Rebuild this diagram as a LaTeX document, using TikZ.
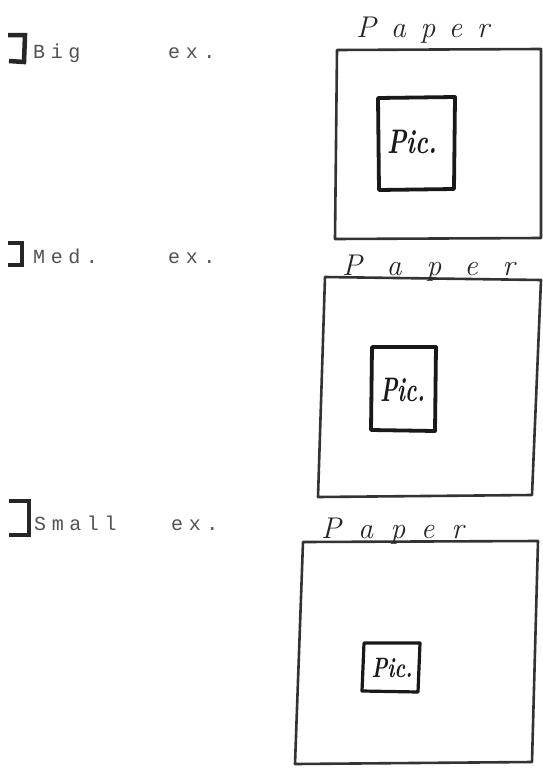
\documentclass[tikz,border=0pt]{standalone}
\usepackage{fontspec}
\newfontfamily\typew[LetterSpace=28]{Liberation Mono}
\newfontfamily\handA[LetterSpace=49]{Latin Modern Roman}
\newfontfamily\handB[LetterSpace=82]{Latin Modern Roman}
\newfontfamily\handC[LetterSpace=57]{Latin Modern Roman}
\begin{document}
\begin{tikzpicture}[x=1pt,y=-1pt,
  typed/.style={font=\typew\fontsize{20}{20}\selectfont, text=black!68, anchor=base west, inner sep=0pt},
  bracketmark/.style={draw=black!85, line width=4.5pt, line join=miter},
  sheet/.style={draw=black!80, line width=2.6pt, line join=round},
  picframe/.style={draw=black!90, line width=3.8pt, line join=round},
  hand/.style={font=#1\itshape\fontsize{30}{30}\selectfont, text=black!85, anchor=base west, inner sep=0pt},
  pictext/.style={font=\bfseries\itshape\fontsize{34}{34}\selectfont, text=black!90, inner sep=0pt, xscale=0.72}
]
\useasboundingbox (0,0) rectangle (543,771);
\fill[white] (0,0) rectangle (543,771);

% left typed labels
\coordinate (b1a) at (8,35); \coordinate (b1b) at (25,35);
\coordinate (b1c) at (24,62); \coordinate (b1d) at (9,61);
\draw[bracketmark] (b1a) -- (b1b) -- (b1c) -- (b1d);
\node[typed] (big) at (33,58) {Big};
\node[typed] (bigex) at (168,58) {ex.};

\coordinate (b2a) at (8,243); \coordinate (b2b) at (22,243);
\coordinate (b2c) at (22,265); \coordinate (b2d) at (8,265);
\draw[bracketmark] (b2a) -- (b2b) -- (b2c) -- (b2d);
\node[typed] (med) at (33,263) {Med.};
\node[typed] (medex) at (168,263) {ex.};

\coordinate (b3a) at (9,501); \coordinate (b3b) at (29,501);
\coordinate (b3c) at (29,535); \coordinate (b3d) at (9,535);
\draw[bracketmark] (b3a) -- (b3b) -- (b3c) -- (b3d);
\node[typed] (small) at (34,530) {Small};
\node[typed] (smallex) at (171,530) {ex.};

% Box 1
\coordinate (p1a) at (337,50); \coordinate (p1b) at (541,49);
\coordinate (p1c) at (541,238); \coordinate (p1d) at (335,239);
\draw[sheet] (p1a) -- (p1b) -- (p1c) -- (p1d) -- cycle;
\coordinate (q1a) at (378,98); \coordinate (q1b) at (455,97);
\coordinate (q1c) at (454,189); \coordinate (q1d) at (379,190);
\draw[picframe] (q1a) -- (q1b) -- (q1c) -- (q1d) -- cycle;
\node[pictext] (pic1) at (412,142) {Pic.};
\node[hand=\handA] (paper1) at (356,37) {Paper};

% Box 2
\coordinate (p2a) at (325,277); \coordinate (p2b) at (541,280);
\coordinate (p2c) at (532,495); \coordinate (p2d) at (318,497);
\draw[sheet] (p2a) -- (p2b) -- (p2c) -- (p2d) -- cycle;
\coordinate (q2a) at (372,347); \coordinate (q2b) at (436,347);
\coordinate (q2c) at (435,431); \coordinate (q2d) at (371,430);
\draw[picframe] (q2a) -- (q2b) -- (q2c) -- (q2d) -- cycle;
\node[pictext, xscale=0.9] (pic2) at (403,390) {Pic.};
\node[hand=\handB] (paper2) at (342,275) {Paper};

% Box 3
\coordinate (p3a) at (303,542); \coordinate (p3b) at (538,541);
\coordinate (p3c) at (532,762); \coordinate (p3d) at (295,764);
\draw[sheet] (p3a) -- (p3b) -- (p3c) -- (p3d) -- cycle;
\coordinate (q3a) at (364,643); \coordinate (q3b) at (420,643);
\coordinate (q3c) at (418,692); \coordinate (q3d) at (362,691);
\draw[picframe, line width=3.2pt] (q3a) -- (q3b) -- (q3c) -- (q3d) -- cycle;
\node[pictext, font=\bfseries\itshape\fontsize{28}{28}\selectfont] (pic3) at (392,668) {Pic.};
\node[hand=\handC] (paper3) at (321,538) {Paper};
\end{tikzpicture}
\end{document}
